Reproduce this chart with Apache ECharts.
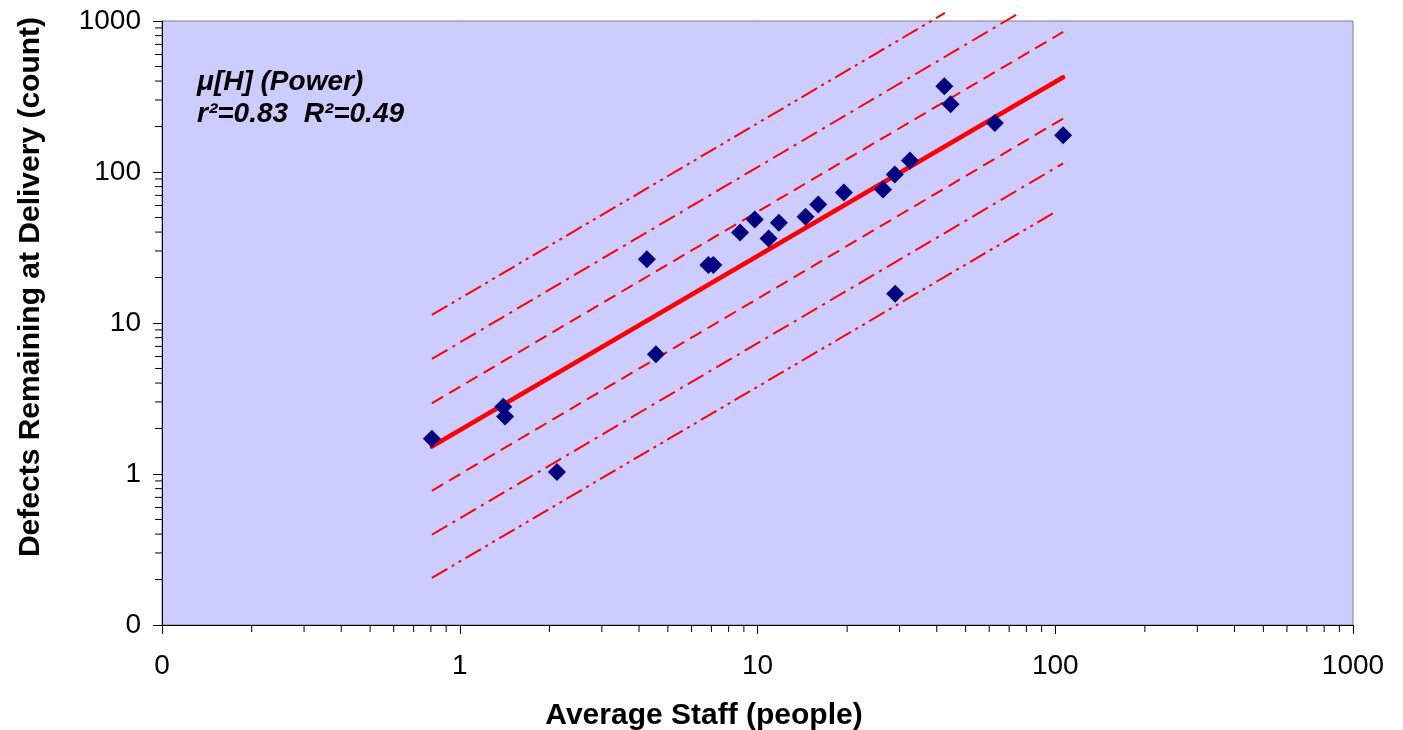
<!DOCTYPE html>
<html><head><meta charset="utf-8">
<script src="https://cdn.jsdelivr.net/npm/echarts@6/dist/echarts.min.js"></script>
<style>html,body{margin:0;padding:0;background:#fff}#c{width:1403px;height:730px}</style>
</head><body><div id="c"></div>
<script>
// ---- data ----
const staff   = [0.806, 1.40, 1.42, 2.12, 4.25, 4.56, 6.84, 7.11, 8.74, 9.79, 10.9, 11.8, 14.5, 16.0, 19.5, 26.4, 28.9, 29.0, 32.5, 42.4, 44.5, 62.7, 106.3];
const defects = [1.71, 2.79, 2.40, 1.03, 26.4, 6.21, 24.2, 24.2, 39.8, 48.5, 36.3, 46.1, 50.5, 61.0, 73.2, 76.7, 96.3, 15.6, 119, 370, 281, 211, 175];

// power-law fit line endpoints
const fitX = [0.806, 106.3];
const fitY = [1.52, 424];

// parallel band lines (endpoints)
const up3X = [0.806, 42.6],  up3Y = [11.3, 1130];
const up2X = [0.806, 74.1],  up2Y = [5.78, 1102];
const up1X = [0.806, 106.3], up1Y = [2.94, 846];
const lo1X = [0.806, 106.3], lo1Y = [0.774, 226];
const lo2X = [0.806, 106.3], lo2Y = [0.396, 114];
const lo3X = [0.806, 101],   lo3Y = [0.205, 55];

// axes
const xMin = 0.1, xMax = 1000, yMin = 0.1, yMax = 1000;
const minorTicks = [0.2,0.3,0.4,0.5,0.6,0.7,0.8,0.9, 2,3,4,5,6,7,8,9, 20,30,40,50,60,70,80,90, 200,300,400,500,600,700,800,900];

const FONT = '"Liberation Sans", Arial, sans-serif';
const zip = (a, b) => a.map((v, i) => [v, b[i]]);
const tickFmt = v => (v < 0.999 ? '0' : String(Math.round(v)));

const chart = echarts.init(document.getElementById('c'), null, {renderer: 'canvas'});

function bandSeries(xs, ys, dash) {
  return {
    type: 'line', data: zip(xs, ys), showSymbol: false, symbol: 'none', clip: false,
    lineStyle: {color: '#FF0000', width: 2, type: dash, opacity: 1}, z: 3, silent: true
  };
}
const DASH = [13, 7];
const DASHDOT = [18, 6, 3, 6];
const DASHDOTDOT = [18, 5, 3, 5, 3, 5];

chart.setOption({
  animation: false,
  backgroundColor: '#ffffff',
  grid: {left: 162, right: 50, top: 21, bottom: 105, show: true,
         backgroundColor: '#CCCCFF', borderColor: '#808080', borderWidth: 1},
  xAxis: {
    type: 'log', logBase: 10, min: xMin, max: xMax,
    axisLine: {show: true, onZero: false, lineStyle: {color: '#000', width: 1}},
    axisTick: {show: true, length: 9, lineStyle: {color: '#000', width: 1}},
    axisLabel: {fontSize: 28, color: '#000', fontFamily: FONT, margin: 27, formatter: tickFmt},
    splitLine: {show: false}
  },
  yAxis: {
    type: 'log', logBase: 10, min: yMin, max: yMax,
    axisLine: {show: true, onZero: false, lineStyle: {color: '#000', width: 1}},
    axisTick: {show: true, length: 9, lineStyle: {color: '#000', width: 1}},
    axisLabel: {fontSize: 28, color: '#000', fontFamily: FONT, margin: 21, formatter: tickFmt},
    splitLine: {show: false}
  },
  graphic: [
    {type: 'text', left: 197, top: 66, silent: true,
     style: {text: 'μ[H] (Power)\nr²=0.83  R²=0.49', font: 'italic bold 28px ' + FONT, fill: '#000', lineHeight: 32}},
    {type: 'text', x: 704, y: 716, silent: true,
     style: {text: 'Average Staff (people)', font: 'bold 30px ' + FONT, fill: '#000', align: 'center', verticalAlign: 'middle'}},
    {type: 'text', x: 31, y: 287, rotation: Math.PI / 2, silent: true,
     style: {text: 'Defects Remaining at Delivery (count)', font: 'bold 30px ' + FONT, fill: '#000', align: 'center', verticalAlign: 'middle'}}
  ],
  series: [
    // minor ticks on x axis
    {type: 'custom', silent: true, clip: false, z: 10,
     data: minorTicks.map(v => [v, yMin]), encode: {x: 0, y: 1},
     renderItem: (params, api) => {
       const p = api.coord([api.value(0), api.value(1)]);
       return {type: 'line', shape: {x1: p[0], y1: p[1], x2: p[0], y2: p[1] + 7}, style: {stroke: '#000', lineWidth: 1}};
     }},
    // minor ticks on y axis
    {type: 'custom', silent: true, clip: false, z: 10,
     data: minorTicks.map(v => [xMin, v]), encode: {x: 0, y: 1},
     renderItem: (params, api) => {
       const p = api.coord([api.value(0), api.value(1)]);
       return {type: 'line', shape: {x1: p[0], y1: p[1], x2: p[0] - 7, y2: p[1]}, style: {stroke: '#000', lineWidth: 1}};
     }},
    bandSeries(up3X, up3Y, DASHDOTDOT),
    bandSeries(up2X, up2Y, DASHDOT),
    bandSeries(up1X, up1Y, DASH),
    bandSeries(lo1X, lo1Y, DASH),
    bandSeries(lo2X, lo2Y, DASHDOT),
    bandSeries(lo3X, lo3Y, DASHDOTDOT),
    {type: 'line', data: zip(fitX, fitY), showSymbol: false, symbol: 'none', clip: false, z: 4,
     lineStyle: {color: '#FF0000', width: 4.5, cap: 'round', opacity: 1}},
    {type: 'scatter', data: zip(staff, defects), symbol: 'diamond', symbolSize: [18, 18], z: 5,
     itemStyle: {color: '#000080', opacity: 1}}
  ]
});
</script>
</body></html>
